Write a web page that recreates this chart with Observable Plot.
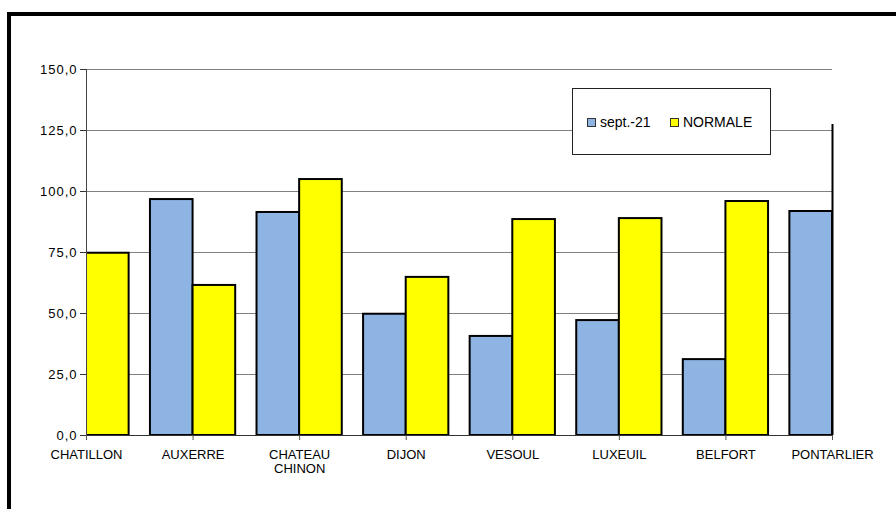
<!DOCTYPE html>
<html>
<head>
<meta charset="utf-8">
<script src="https://cdn.jsdelivr.net/npm/d3@7"></script>
<script src="https://cdn.jsdelivr.net/npm/@observablehq/plot@0.6"></script>
<style>
  html, body { margin: 0; padding: 0; background: #fff; }
  #wrap { position: relative; width: 896px; height: 509px; overflow: hidden; font-family: "Liberation Sans", Arial, sans-serif; }
  #frame { position: absolute; left: 7px; top: 12px; width: 1000px; height: 1000px; border-top: 4px solid #000; border-left: 4px solid #000; box-sizing: border-box; pointer-events: none; }
  #chart { position: absolute; left: 0; top: 0; }
  #legend { position: absolute; left: 572px; top: 88px; width: 197px; height: 65px; border: 1px solid #222; background: #fff; font-size: 14px; color: #000; }
  .item { position: absolute; top: 25px; display: flex; align-items: center; }
  .sw { width: 7px; height: 7px; border: 1px solid #333; margin-right: 4px; }
  svg g[aria-label="y-axis tick label"] text { letter-spacing: 1px; }
</style>
</head>
<body>
<div id="wrap">
  <div id="chart"></div>
  <div id="frame"></div>
  <div id="legend"></div>
</div>
<script>
const categories = ["CHATILLON", "AUXERRE", "CHATEAU\nCHINON", "DIJON", "VESOUL", "LUXEUIL", "BELFORT", "PONTARLIER"];
const sept21 = [null, 96.7, 91.4, 49.7, 40.6, 47.1, 31.1, 91.8];
const normale = [74.7, 61.5, 104.9, 64.8, 88.5, 88.9, 95.9, null];
const seriesNames = ["sept.-21", "NORMALE"];
const seriesColors = ["#8eb4e3", "#ffff00"];
const yTicks = [0, 25, 50, 75, 100, 125, 150];

const barFrac = 0.4;
const rows = [];
categories.forEach((c, i) => {
  if (sept21[i] != null) rows.push({i, series: seriesNames[0], value: sept21[i], x1: i - barFrac, x2: i});
  if (normale[i] != null) rows.push({i, series: seriesNames[1], value: normale[i], x1: i, x2: i + barFrac});
});

const fmt = d => d.toFixed(1).replace(".", ",");

const chart = Plot.plot({
  width: 896,
  height: 509,
  marginLeft: 86,
  marginRight: 64,
  marginTop: 69,
  marginBottom: 74,
  style: {fontFamily: "'Liberation Sans', Arial, sans-serif", fontSize: "13px", color: "#000", background: "transparent"},
  x: {type: "linear", domain: [0, categories.length - 1]},
  y: {domain: [0, 150]},
  color: {domain: seriesNames, range: seriesColors},
  marks: [
    Plot.ruleY(yTicks, {stroke: "#808080", strokeWidth: 1.2}),
    Plot.rectY(rows, {x1: "x1", x2: "x2", y1: 0, y2: "value", fill: "series", stroke: "#000", strokeWidth: 2, clip: true}),
    Plot.ruleX([0], {stroke: "#444", strokeWidth: 1}),
    Plot.ruleY([0], {stroke: "#333", strokeWidth: 1.2}),
    Plot.ruleX([categories.length - 1], {y1: 0, y2: 127.5, stroke: "#000", strokeWidth: 2}),
    Plot.axisY({ticks: yTicks, tickFormat: fmt, tickSize: 6, tickPadding: 3, fontSize: 13, stroke: "#333", label: null}),
    Plot.axisX({ticks: d3.range(categories.length), tickFormat: i => categories[i], tickSize: 5, tickPadding: 8, fontSize: 13, stroke: "#555", label: null, lineHeight: 1.1})
  ]
});
document.getElementById("chart").appendChild(chart);

const legend = document.getElementById("legend");
const lefts = [14, 97];
seriesNames.forEach((s, k) => {
  const it = document.createElement("div");
  it.className = "item";
  it.style.left = lefts[k] + "px";
  const sw = document.createElement("div");
  sw.className = "sw";
  sw.style.background = seriesColors[k];
  const t = document.createElement("span");
  t.textContent = s;
  it.appendChild(sw);
  it.appendChild(t);
  legend.appendChild(it);
});
</script>
</body>
</html>
